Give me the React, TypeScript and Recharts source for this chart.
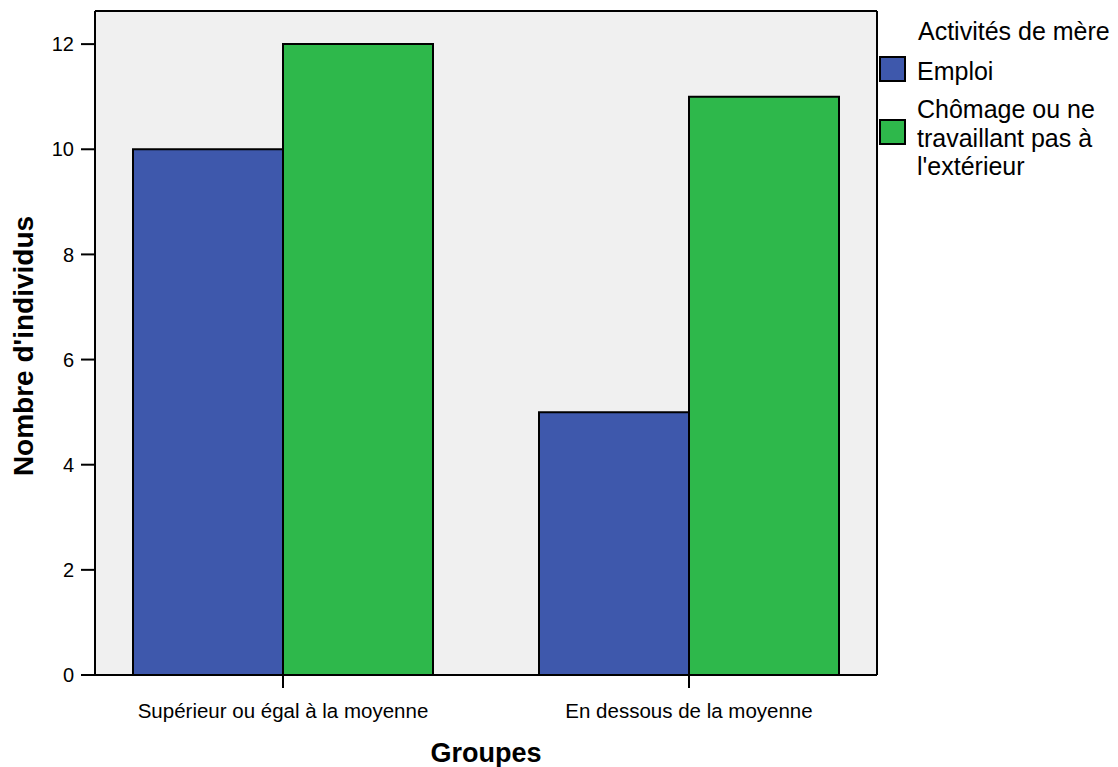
import React from "react";
import {
  BarChart,
  Bar,
  XAxis,
  YAxis,
  CartesianGrid,
  Legend,
} from "recharts";

const groupes = ["Supérieur ou égal à la moyenne", "En dessous de la moyenne"];
const emploi = [10, 5];
const chomage = [12, 11];
const yTicks = [0, 2, 4, 6, 8, 10, 12];
const yMax = 12.63;

const legendTitle = "Activités de mère";
const seriesNames = ["Emploi", "Chômage ou ne travaillant pas à l'extérieur"];
const seriesColors = ["#3e58ac", "#2eb84b"];

const data = groupes.map((g, i) => ({
  groupe: g,
  emploi: emploi[i],
  chomage: chomage[i],
}));

const FONT = "'Liberation Sans', Arial, sans-serif";
const axisLine = { stroke: "#000", strokeWidth: 2 };

function LegendBox() {
  const swatch = (color: string, top: number) => (
    <div
      style={{
        position: "absolute",
        left: 9,
        top,
        width: 27,
        height: 26,
        boxSizing: "border-box",
        border: "2px solid #000",
        background: color,
      }}
    />
  );
  const text = (label: string, top: number, left = 47, nowrap = false) => (
    <div
      style={{
        position: "absolute",
        left,
        top,
        width: nowrap ? undefined : 198,
        fontSize: 25,
        lineHeight: "28.5px",
        color: "#000",
        whiteSpace: nowrap ? "nowrap" : "normal",
      }}
    >
      {label}
    </div>
  );
  return (
    <div style={{ position: "relative", width: 248, height: 200, fontFamily: FONT }}>
      {text(legendTitle, 9, 48, true)}
      {swatch(seriesColors[0], 48)}
      {text(seriesNames[0], 49)}
      {swatch(seriesColors[1], 111)}
      {text(seriesNames[1], 87)}
    </div>
  );
}

// frame lines on the top and right of the plot area
const topEdge = ({ offset }: any) => [offset.top];
const rightEdge = ({ offset }: any) => [offset.left + offset.width];

export default function App() {
  return (
    <div style={{ width: 1110, height: 759, fontFamily: FONT }}>
      <BarChart
        width={1110}
        height={759}
        data={data}
        margin={{ top: 3, right: 241, bottom: 0, left: 0 }}
        barGap={0}
        barSize={150}
      >
        <CartesianGrid
          fill="#f0f0f0"
          stroke="#000"
          strokeWidth={2}
          horizontalCoordinatesGenerator={topEdge}
          verticalCoordinatesGenerator={rightEdge}
        />
        <XAxis
          dataKey="groupe"
          interval={0}
          height={92}
          padding={{ left: -15, right: -15 }}
          axisLine={axisLine}
          tickLine={axisLine}
          tickSize={13}
          tickMargin={15}
          tick={{ fill: "#000", fontSize: 20.5, fontFamily: FONT }}
          label={{
            value: "Groupes",
            position: "insideBottom",
            offset: 5,
            style: { fill: "#000", fontSize: 27, fontWeight: "bold", fontFamily: FONT },
          }}
        />
        <YAxis
          width={87}
          type="number"
          domain={[0, yMax]}
          allowDataOverflow
          ticks={yTicks}
          axisLine={axisLine}
          tickLine={axisLine}
          tickSize={14}
          tickMargin={7}
          tick={{ fill: "#000", fontSize: 20, fontFamily: FONT }}
          label={{
            value: "Nombre d'individus",
            angle: -90,
            position: "insideLeft",
            offset: 15,
            dy: 3,
            style: {
              fill: "#000",
              fontSize: 28,
              fontWeight: "bold",
              fontFamily: FONT,
              textAnchor: "middle",
            },
          }}
        />
        <Legend
          layout="horizontal"
          verticalAlign="middle"
          align="center"
          content={() => <LegendBox />}
          wrapperStyle={{ left: 862, top: 0, width: 256, height: 200 }}
        />
        <Bar
          dataKey="emploi"
          name={seriesNames[0]}
          fill={seriesColors[0]}
          stroke="#000"
          strokeWidth={2}
          isAnimationActive={false}
        />
        <Bar
          dataKey="chomage"
          name={seriesNames[1]}
          fill={seriesColors[1]}
          stroke="#000"
          strokeWidth={2}
          isAnimationActive={false}
        />
      </BarChart>
    </div>
  );
}
